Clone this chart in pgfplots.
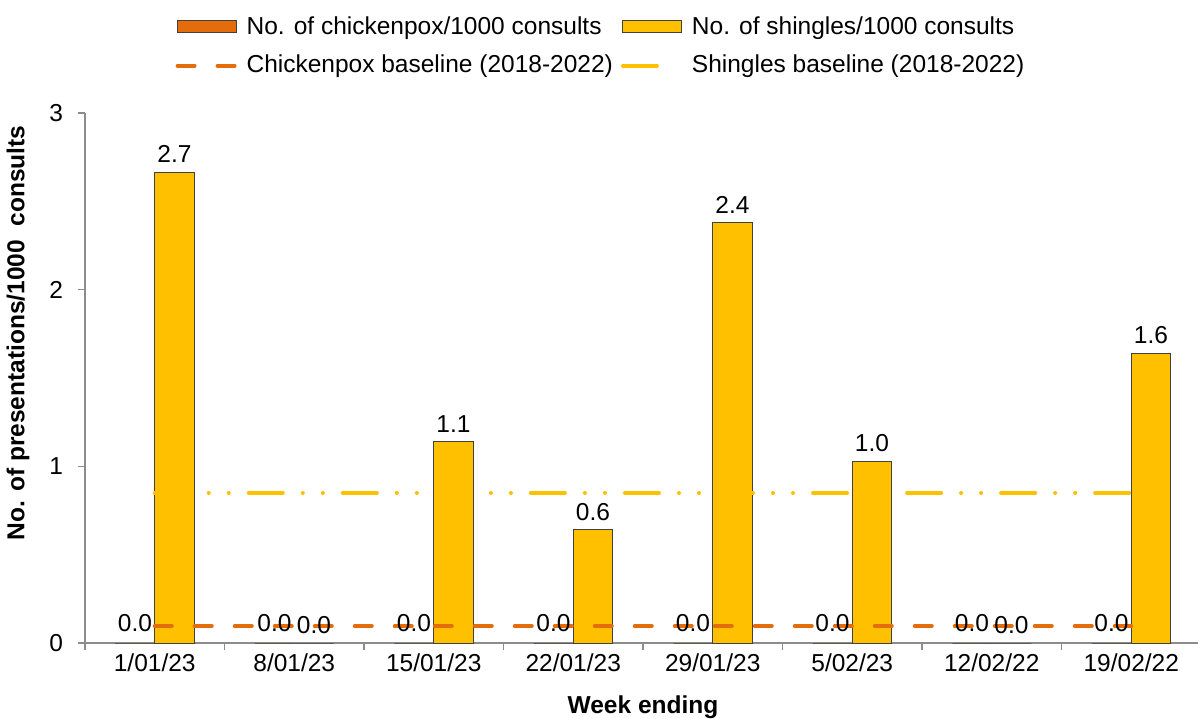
\documentclass[border=0pt]{standalone}
\usepackage{fontspec}
\setmainfont{Liberation Sans}
\usepackage{pgfplots}
\pgfplotsset{compat=1.18}
\definecolor{cporange}{HTML}{E46C0A}
\definecolor{shyellow}{HTML}{FFC000}
\definecolor{axisgray}{HTML}{8C8C8C}
\definecolor{barline}{HTML}{404040}
\pgfplotsset{/pgf/number format/assume math mode=true}
\begin{document}
\begin{tikzpicture}[font=\fontsize{12.25}{14.7}\selectfont]
\begin{axis}[
  at={(0,0)}, anchor=south west,
  width=558pt, height=265pt, scale only axis,
  clip=false,
  xmin=-0.5, xmax=7.5, ymin=0, ymax=3,
  axis x line*=bottom, axis y line*=left,
  axis line style={draw=axisgray, line width=0.75pt, -},
  tick style={draw=axisgray, line width=0.75pt},
  tick align=outside, major tick length=3.5pt,
  xtick={-0.5,0.5,...,7.5}, xticklabels={},
  extra x ticks={0,1,2,3,4,5,6,7},
  extra x tick labels={1/01/23,8/01/23,15/01/23,22/01/23,29/01/23,5/02/23,12/02/22,19/02/22},
  extra x tick style={major tick length=0pt, xticklabel style={yshift=-2pt}},
  ytick={0,1,2,3},
  yticklabel style={xshift=-4pt},
  xlabel={\bfseries Week ending},
  ylabel={\bfseries No. of presentations/1000\ \ consults},
  xlabel style={at={(axis description cs:0.5,-0.121)}, anchor=center},
  ylabel style={at={(axis description cs:-0.06,0.585)}, anchor=center},
  legend columns=2,
  legend cell align=left,
  legend style={draw=none, fill=none, at={(0.465,1.126)}, anchor=center,
    nodes={inner ysep=1.5pt, inner xsep=4pt},
    /tikz/every even column/.append style={column sep=0pt},
    row sep=6pt},
  nodes near coords={\pgfmathprintnumber[fixed,fixed zerofill,precision=1]{\pgfplotspointmeta}},
  every node near coord/.append style={text=black},
]
\addplot[ybar, bar width=19.75pt, bar shift=-9.875pt, fill=cporange, draw=barline, line width=0.5pt,
  every node near coord/.append style={xshift=-9.875pt, yshift=2pt},
  legend image code/.code={\draw[fill=cporange, draw=barline, line width=0.5pt] (0pt,-3pt) rectangle (29.5pt,3pt);}]
  coordinates {(0,0) (1,0) (2,0) (3,0) (4,0) (5,0) (6,0) (7,0)};
\addlegendentry{No. of chickenpox/1000 consults}
\addplot[ybar, bar width=19.75pt, bar shift=9.875pt, fill=shyellow, draw=barline, line width=0.5pt,
  every node near coord/.append style={xshift=9.875pt, yshift=1pt},
  legend image code/.code={\draw[fill=shyellow, draw=barline, line width=0.5pt] (0pt,-3pt) rectangle (29.5pt,3pt);}]
  coordinates {(0,2.666) (1,0) (2,1.14) (3,0.64) (4,2.38) (5,1.03) (6,0) (7,1.64)};
\addlegendentry{No. of shingles/1000 consults}
\addplot[cporange, line width=2pt, line cap=round, dash pattern=on 8.5pt off 11.5pt, no markers, nodes near coords=,
  legend image code/.code={\draw[cporange, line width=2pt, line cap=round, dash pattern=on 8.5pt off 11.5pt] (0pt,0pt) -- (29.5pt,0pt);}]
  coordinates {(0,0.095) (1,0.095) (2,0.095) (3,0.095) (4,0.095) (5,0.095) (6,0.095) (7,0.095)};
\addlegendentry{Chickenpox baseline (2018-2022)}
\addplot[shyellow, line width=2pt, line cap=round, dash pattern=on 17pt off 10pt on 0.01pt off 10pt on 0.01pt off 10pt, no markers, nodes near coords=,
  legend image code/.code={\draw[shyellow, line width=2pt, line cap=round] (0pt,0pt) -- (19.5pt,0pt); \path (29.5pt,0pt);}]
  coordinates {(0,0.85) (1,0.85) (2,0.85) (3,0.85) (4,0.85) (5,0.85) (6,0.85) (7,0.85)};
\addlegendentry{Shingles baseline (2018-2022)}
\end{axis}
\pgfresetboundingbox
\path[use as bounding box] (-42.5pt,-37.5pt) rectangle (556.5pt,321.5pt);
\end{tikzpicture}
\end{document}
